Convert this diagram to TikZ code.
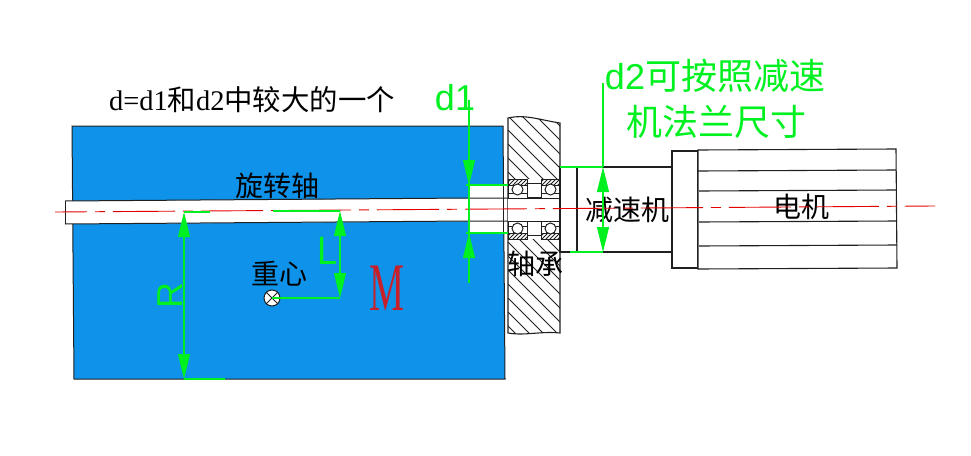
\documentclass[tikz,border=0pt]{standalone}
\usepackage{fontspec}
\usetikzlibrary{arrows.meta}
\setmainfont{Liberation Serif}
\newfontfamily\cjk{Noto Sans CJK SC}
\newfontfamily\dimfont{Liberation Sans}
\definecolor{bodyblue}{HTML}{0F93EA}
\definecolor{dimgreen}{HTML}{00F020}
\definecolor{linegray}{HTML}{202020}
\definecolor{massred}{HTML}{C8202A}
\tikzset{
  part/.style={draw=linegray,line width=1.1pt},
  thin part/.style={draw=linegray,line width=1pt},
  hatch/.style={draw=linegray,line width=0.85pt},
  axis/.style={draw=red!90!black,line width=0.9pt,dash pattern=on 62pt off 8pt on 10pt off 8pt,dash phase=30pt},
  dimline/.style={draw=dimgreen,line width=1.05pt},
  dimarrow/.style={dimline,{Triangle[length=25pt,width=12pt]}-{Triangle[length=25pt,width=12pt]}},
  dimtip/.style={dimline,-{Triangle[length=25pt,width=12pt]}},
  blacklabel/.style={text=black,font=\cjk\fontsize{28}{28}\selectfont,inner sep=0pt},
  greentext/.style={text=dimgreen,inner sep=0pt},
}
\begin{document}
\begin{tikzpicture}[x=1pt,y=-1pt]
\useasboundingbox (0,0) rectangle (971,455);
% main body
\fill[bodyblue] (72,126) -- (503,126) -- (505,379) -- (74,379) -- cycle;
\draw[thin part] (72,126) -- (503,126) -- (505,379) -- (74,379) -- cycle;
% shaft and bore
\fill[white] (65,201) -- (508,198) -- (508,221) -- (65,224) -- cycle;
\fill[white] (470,185) rectangle (508,233);
\draw[thin part] (65,201) -- (470,198) -- (560,198);
\draw[thin part] (65,224) -- (470,221) -- (560,221);
\draw[thin part] (65,201) -- (65,224);
\draw[thin part] (503,185) -- (503,233);
% housing
\path[fill=white] (508,118) .. controls (525,114) and (540,120) .. (560,123) -- (560,333) .. controls (540,331) and (525,336) .. (508,333) -- cycle;
\begin{scope}
\clip (508,118) .. controls (525,114) and (540,120) .. (560,123) -- (560,333) .. controls (540,331) and (525,336) .. (508,333) -- cycle;
\foreach \i in {0,...,22} {
  \draw[hatch] (508,{88+\i*14}) -- +(70,70);
}
\foreach \i in {1,...,4} {
  \draw[hatch] ({508+\i*14},88) -- +(70,70);
}
\end{scope}
\draw[part] (508,118) .. controls (525,114) and (540,120) .. (560,123) -- (560,333) .. controls (540,331) and (525,336) .. (508,333) -- cycle;
% bearing pocket
\fill[white] (508,179) rectangle (560,239);
\draw[thin part] (527,183) rectangle (541,197);
\draw[thin part] (527,221) rectangle (541,235);
\foreach \x/\w in {508/19,541/19} {
  \begin{scope}[xshift=\x pt]
    \draw[thin part] (0,179) rectangle (\w,198);
    \draw[thin part] (0,221) rectangle (\w,239);
    \draw[thin part] (0,193) -- (\w,193);
    \draw[thin part] (0,226) -- (\w,226);
    \begin{scope}
      \clip (0,179) rectangle (\w,185);
      \foreach \k in {-1,...,5} \draw[hatch] ({\k*4},186) -- +(7,-7);
    \end{scope}
    \begin{scope}
      \clip (0,233) rectangle (\w,239);
      \foreach \k in {-1,...,5} \draw[hatch] ({\k*4},240) -- +(7,-7);
    \end{scope}
    \draw[thin part] (0,185) -- (\w,185);
    \draw[thin part] (0,233) -- (\w,233);
    \draw[thin part,fill=white] (9.5,189.5) circle (5.5);
    \draw[thin part,fill=white] (9.5,228.5) circle (5.5);
  \end{scope}
}
\draw[thin part] (508,198) -- (560,198);
\draw[thin part] (508,221) -- (560,221);
% gearbox
\draw[part,fill=white] (560,167) -- (672,167) -- (672,252) -- (560,252) -- cycle;
\draw[part] (577,167) -- (577,252);
% motor
\draw[part,fill=white] (672,151) rectangle (698,268);
\draw[part,fill=white] (698,150) -- (896,149) -- (897,268) -- (698,269) -- cycle;
\draw[part] (698,171) -- (896,170);
\draw[part] (699,191) -- (896,190);
\draw[part] (699,222) -- (897,221);
\draw[part] (699,246) -- (897,245);
% labels under axis
\node[blacklabel] (shaftlabel) at (277,186) {旋转轴};
\node[blacklabel] (reducerlabel) at (627,210) {减速机};
\node[blacklabel] (motorlabel) at (801,207) {电机};
\node[blacklabel] (bearinglabel) at (535,264) {轴承};
\node[blacklabel] (cglabel) at (279,274) {重心};
% axis
\coordinate (axisA) at (55,212);
\coordinate (axisB) at (935,206);
\draw[axis] (axisA) -- (axisB);
% centre of gravity
\node[circle,draw=linegray,line width=1pt,fill=white,minimum size=16pt,inner sep=0pt] (cg) at (272,298) {};
\draw[thin part] (cg.north west) -- (cg.south east);
\draw[thin part] (cg.north east) -- (cg.south west);
% dimensions
\coordinate (Rtop) at (184,212);
\coordinate (Rbot) at (184,379);
\coordinate (RtopEnd) at (210,212);
\coordinate (RbotEnd) at (225,379);
\draw[dimarrow] (Rtop) -- (Rbot);
\draw[dimline] (Rtop) -- (RtopEnd);
\draw[dimline] (Rbot) -- (RbotEnd);
\coordinate (Ltop) at (340,211);
\coordinate (Lbot) at (340,298);
\coordinate (LtopEnd) at (273,211);
\draw[dimarrow] (Ltop) -- (Lbot);
\draw[dimline] (Ltop) -- (LtopEnd);
\draw[dimline] (cg.center) -- (Lbot);
\coordinate (done) at (469,100);
\coordinate (dtwoend) at (469,283);
\coordinate (dA) at (469,185);
\coordinate (dB) at (469,233);
\coordinate (dAend) at (508,185);
\coordinate (dBend) at (508,233);
\draw[dimline] (done) -- (dtwoend);
\draw[dimtip] (469,160) -- (dA);
\draw[dimtip] (469,258) -- (dB);
\draw[dimline] (466,185) -- (dAend);
\draw[dimline] (466,233) -- (dBend);
\coordinate (eTop) at (603,83);
\coordinate (eA) at (603,167);
\coordinate (eB) at (603,252);
\draw[dimline] (eTop) -- (eA);
\draw[dimarrow] (eA) -- (eB);
\draw[dimline] (560,167) -- (eA);
\draw[dimline] (570,252) -- (eB);
% texts
\node[inner sep=0pt,text=black] (title) at (252,100) {\fontsize{28.4}{28.4}\selectfont d=d1{\cjk 和}d2{\cjk 中较大的一个}};
\node[greentext,font=\dimfont\fontsize{36}{36}\selectfont] (donelabel) at (455,98) {d1};
\node[greentext,font=\dimfont\fontsize{36}{36}\selectfont] (Rlabel) at (170,295) [rotate=90] {R};
\node[greentext,font=\dimfont\fontsize{36}{36}\selectfont,yscale=1.1] (Llabel) at (328,251) {L};
\node[greentext] (dtwolabel) at (715,76) {\fontsize{36}{36}\selectfont{\dimfont d2}{\cjk 可按照减速}};
\node[greentext] (dtwolabelb) at (716,122) {\fontsize{36}{36}\selectfont\cjk 机法兰尺寸};
\node[text=massred,inner sep=0pt,xscale=0.58] (masslabel) at (387,288) {\fontsize{68}{68}\selectfont M};
\end{tikzpicture}
\end{document}
